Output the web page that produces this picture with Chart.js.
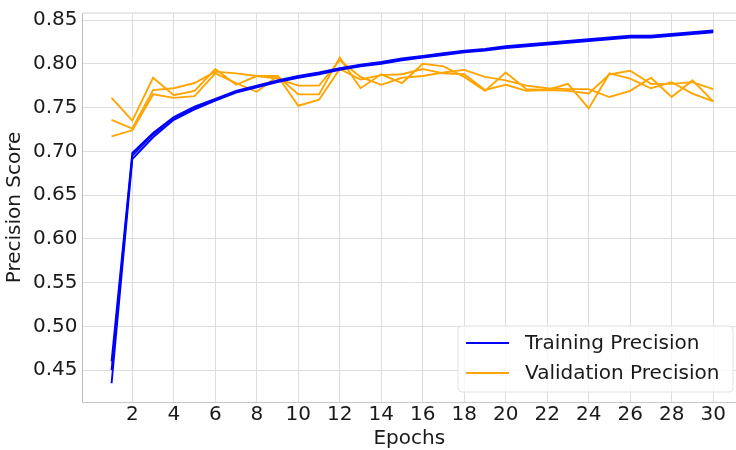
<!DOCTYPE html>
<html>
<head>
<meta charset="utf-8">
<script src="https://cdn.jsdelivr.net/npm/chart.js@4"></script>
<style>
  html, body { margin: 0; padding: 0; background: #fff; }
  #wrap { width: 736px; height: 450px; }
</style>
</head>
<body>
<div id="wrap"><canvas id="chart" width="736" height="450"></canvas></div>
<script>
// epochs 1..30
const epochs = [1,2,3,4,5,6,7,8,9,10,11,12,13,14,15,16,17,18,19,20,21,22,23,24,25,26,27,28,29,30];

// three training runs (they sit almost on top of each other)
const trainA = [0.460,0.698,0.721,0.739,0.751,0.760,0.769,0.775,0.781,0.786,0.790,0.795,0.799,0.802,0.806,0.809,0.812,0.815,0.817,0.820,0.822,0.824,0.826,0.828,0.830,0.832,0.832,0.834,0.836,0.838];
const trainB = [0.450,0.695,0.719,0.738,0.750,0.759,0.768,0.774,0.780,0.785,0.789,0.794,0.798,0.801,0.805,0.808,0.811,0.814,0.816,0.819,0.821,0.823,0.825,0.827,0.829,0.831,0.831,0.833,0.835,0.837];
const trainC = [0.435,0.691,0.716,0.736,0.748,0.758,0.767,0.773,0.779,0.784,0.788,0.793,0.797,0.800,0.804,0.807,0.810,0.813,0.815,0.818,0.820,0.822,0.824,0.826,0.828,0.830,0.830,0.832,0.834,0.836];

// three validation runs
const valA = [0.761,0.735,0.784,0.764,0.769,0.794,0.776,0.786,0.786,0.765,0.765,0.807,0.772,0.788,0.778,0.800,0.797,0.785,0.769,0.790,0.771,0.770,0.777,0.749,0.789,0.783,0.772,0.779,0.766,0.757];
const valB = [0.736,0.726,0.770,0.772,0.778,0.791,0.789,0.786,0.783,0.775,0.775,0.804,0.785,0.776,0.784,0.786,0.790,0.793,0.785,0.781,0.775,0.772,0.771,0.771,0.762,0.769,0.784,0.762,0.781,0.757];
const valC = [0.717,0.724,0.765,0.761,0.763,0.789,0.778,0.768,0.786,0.752,0.759,0.794,0.782,0.787,0.788,0.794,0.789,0.788,0.770,0.776,0.769,0.770,0.769,0.766,0.788,0.792,0.777,0.777,0.779,0.771];

const xTicks = [2,4,6,8,10,12,14,16,18,20,22,24,26,28,30];
const yTicks = [0.45,0.50,0.55,0.60,0.65,0.70,0.75,0.80,0.85];

const legendItems = [
  { label: "Training Precision", color: "#0000ff" },
  { label: "Validation Precision", color: "#ffa500" },
];

const FONT = "'DejaVu Sans', sans-serif";
const TEXT = "#1a1a1a";

function pts(arr) {
  return arr.map((v, i) => ({ x: epochs[i], y: v }));
}
function line(label, arr, color) {
  return {
    label: label,
    data: pts(arr),
    borderColor: color,
    backgroundColor: color,
    borderWidth: 1.9,
    pointRadius: 0,
    tension: 0,
    fill: false,
  };
}

//legend drawn inside the plot, lower right, like matplotlib
const boxLegend = {
  id: "boxLegend",
  afterDraw(chart) {
    const ctx = chart.ctx;
    const a = chart.chartArea;
    const w = 275, h = 66;
    const x0 = a.right - w - 3, y0 = a.bottom - h - 10;
    ctx.save();
    ctx.beginPath();
    ctx.roundRect(x0, y0, w, h, 4);
    ctx.fillStyle = "rgba(255,255,255,0.8)";
    ctx.fill();
    ctx.strokeStyle = "#e2e2e2";
    ctx.lineWidth = 1;
    ctx.stroke();
    ctx.font = "20px " + FONT;
    ctx.textBaseline = "middle";
    legendItems.forEach((it, i) => {
      const yy = y0 + 17 + i * 30;
      ctx.beginPath();
      ctx.moveTo(x0 + 8, yy);
      ctx.lineTo(x0 + 51, yy);
      ctx.strokeStyle = it.color;
      ctx.lineWidth = 2;
      ctx.stroke();
      ctx.fillStyle = TEXT;
      ctx.fillText(it.label, x0 + 67, yy + 1);
    });
    ctx.restore();
  },
};

// top frame line
const topFrame = {
  id: "topFrame",
  beforeDatasetsDraw(chart) {
    const ctx = chart.ctx;
    const a = chart.chartArea;
    ctx.save();
    ctx.strokeStyle = "#e0e0e0";
    ctx.lineWidth = 1.5;
    ctx.beginPath();
    ctx.moveTo(a.left, a.top);
    ctx.lineTo(a.right, a.top);
    ctx.stroke();
    ctx.restore();
  },
};

new Chart(document.getElementById("chart"), {
  type: "line",
  data: {
    datasets: [
      line("Training Precision", trainA, "#0000ff"),
      line("Training Precision", trainB, "#0000ff"),
      line("Training Precision", trainC, "#0000ff"),
      line("Validation Precision", valA, "#ffa500"),
      line("Validation Precision", valB, "#ffa500"),
      line("Validation Precision", valC, "#ffa500"),
    ],
  },
  plugins: [topFrame, boxLegend],
  options: {
    responsive: false,
    animation: false,
    layout: { padding: { top: 13, left: 4, right: 0, bottom: 0 } },
    plugins: {
      legend: { display: false },
      tooltip: { enabled: false },
    },
    scales: {
      x: {
        type: "linear",
        min: -0.4,
        max: 31.1,
        afterBuildTicks: (s) => { s.ticks = xTicks.map((v) => ({ value: v })); },
        ticks: {
          color: TEXT,
          font: { family: FONT, size: 20 },
          padding: 1,
          maxRotation: 0,
          autoSkip: false,
        },
        grid: { color: "#dedede", lineWidth: 1, drawTicks: false },
        border: { color: "#c8c8c8", width: 1 },
        title: {
          display: true,
          text: "Epochs",
          color: TEXT,
          font: { family: FONT, size: 20, lineHeight: 1.1 },
          padding: { top: 0, bottom: 0 },
        },
      },
      y: {
        type: "linear",
        min: 0.4136,
        max: 0.858,
        afterBuildTicks: (s) => { s.ticks = yTicks.map((v) => ({ value: v })); },
        afterFit: (s) => { s.paddingTop = 0; s.paddingBottom = 0; },
        ticks: {
          color: TEXT,
          font: { family: FONT, size: 20 },
          padding: 5,
          autoSkip: false,
          callback: (v) => v.toFixed(2),
        },
        grid: { color: "#dedede", lineWidth: 1, drawTicks: false },
        border: { color: "#bdbdbd", width: 1 },
        title: {
          display: true,
          text: "Precision Score",
          color: TEXT,
          font: { family: FONT, size: 20, lineHeight: 1.1 },
          padding: { top: 0, bottom: 2 },
        },
      },
    },
  },
});
</script>
</body>
</html>
